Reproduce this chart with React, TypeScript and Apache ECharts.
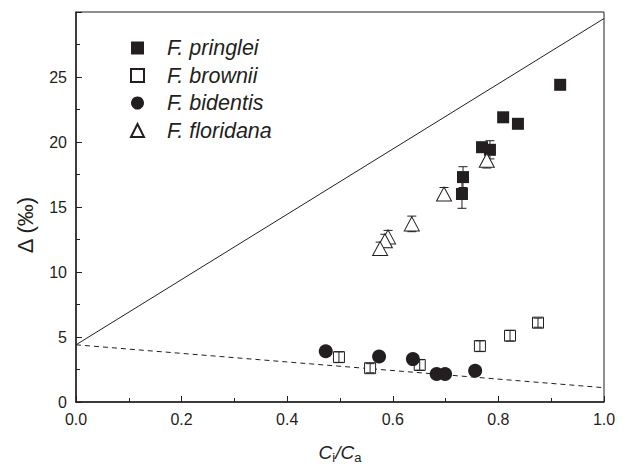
import React, { useEffect, useRef } from "react";
import * as echarts from "echarts";

const ciCaLine = [0, 1];
const solidModel = [4.4, 29.5];
const dashedModel = [4.4, 1.1];

const pringlei = [[0.917, 24.4], [0.809, 21.9], [0.837, 21.4], [0.769, 19.6], [0.784, 19.4], [0.733, 17.3], [0.731, 16.0]];
const pringleiErr = [0.2, 0.2, 0.3, 0.3, 0.7, 0.8, 1.1];
const brownii = [[0.498, 3.45], [0.557, 2.6], [0.651, 2.85], [0.765, 4.3], [0.822, 5.1], [0.875, 6.1]];
const browniiErr = [0.4, 0.35, 0.4, 0.4, 0.4, 0.35];
const bidentis = [[0.473, 3.9], [0.574, 3.5], [0.638, 3.3], [0.683, 2.15], [0.699, 2.15], [0.756, 2.4]];
const floridana = [[0.778, 18.6], [0.697, 16.0], [0.636, 13.7], [0.591, 12.7], [0.585, 12.4], [0.576, 11.8]];
const floridanaErr = [0.6, 0.5, 0.6, 0.5, 0.5, 0.5];

const xTicks = [0, 0.2, 0.4, 0.6, 0.8, 1.0];
const yTicks = [0, 5, 10, 15, 20, 25];

const INK = "#231f20";

function errData(pts: number[][], errs: number[]) {
  return pts.map((p, i) => [p[0], p[1], errs[i]]);
}

function errSeries(pts: number[][], errs: number[], z: number) {
  return {
    type: "custom",
    z,
    silent: true,
    data: errData(pts, errs),
    renderItem: (params: any, api: any) => {
      const x = api.value(0);
      const y = api.value(1);
      const e = api.value(2);
      const top = api.coord([x, y + e]);
      const bot = api.coord([x, y - e]);
      const w = 4.5;
      const style = { stroke: INK, lineWidth: 1 };
      return {
        type: "group",
        children: [
          { type: "line", shape: { x1: top[0], y1: top[1], x2: bot[0], y2: bot[1] }, style },
          { type: "line", shape: { x1: top[0] - w, y1: top[1], x2: top[0] + w, y2: top[1] }, style },
          { type: "line", shape: { x1: bot[0] - w, y1: bot[1], x2: bot[0] + w, y2: bot[1] }, style },
        ],
      };
    },
  };
}

export default function App() {
  const ref = useRef<HTMLDivElement>(null);
  useEffect(() => {
    if (!ref.current) return;
    const chart = echarts.init(ref.current, null, { renderer: "svg" });
    const font = "'Liberation Sans', Arial, Helvetica, sans-serif";
    chart.setOption({
      animation: false,
      textStyle: { fontFamily: font },
      grid: { left: 76, right: 28, top: 12, bottom: 65, show: true, borderColor: INK, borderWidth: 1 },
      graphic: [
        {
          type: "text",
          x: 25,
          y: 225,
          rotation: Math.PI / 2,
          style: {
            text: "Δ (‰)",
            fontSize: 22,
            fontFamily: font,
            fill: INK,
            textAlign: "center",
            textVerticalAlign: "middle",
          },
        },
      ],
      legend: {
        orient: "vertical",
        left: 125,
        top: 32,
        padding: 5,
        itemWidth: 13,
        itemHeight: 13,
        itemGap: 5.5,
        data: ["F. pringlei", "F. brownii", "F. bidentis", "F. floridana"],
        textStyle: { fontFamily: font, fontStyle: "italic", fontSize: 21.5, lineHeight: 20, color: INK, padding: [0, 0, 0, 18] },
      },
      xAxis: {
        type: "value",
        min: 0,
        max: 1,
        interval: 0.2,
        name: "{c|C}{s|i}{c|/C}{s|a}",
        nameLocation: "middle",
        nameGap: 38,
        nameTextStyle: {
          rich: {
            c: { fontStyle: "italic", fontSize: 19, color: INK, fontFamily: font },
            s: { fontSize: 13, color: INK, fontFamily: font, verticalAlign: "bottom", padding: [11, 0, 0, 0] },
          },
        },
        axisLine: { lineStyle: { color: INK, width: 1.5 } },
        axisTick: { inside: true, length: 6, lineStyle: { color: INK } },
        minorTick: { show: true, splitNumber: 2, length: 4, lineStyle: { color: INK } },
        splitLine: { show: false },
        axisLabel: {
          color: INK,
          fontSize: 16,
          margin: 9,
          formatter: (v: number) => (xTicks.some((t) => Math.abs(t - v) < 1e-9) ? v.toFixed(1) : ""),
        },
      },
      yAxis: {
        type: "value",
        min: 0,
        max: 30,
        interval: 5,
        axisLine: { lineStyle: { color: INK, width: 1.5 } },
        axisTick: { inside: true, length: 6, lineStyle: { color: INK } },
        minorTick: { show: true, splitNumber: 2, length: 4, lineStyle: { color: INK } },
        splitLine: { show: false },
        axisLabel: {
          color: INK,
          fontSize: 16,
          margin: 9,
          formatter: (v: number) => (yTicks.includes(v) ? String(v) : ""),
        },
      },
      series: [
        {
          type: "line",
          data: ciCaLine.map((x, i) => [x, solidModel[i]]),
          symbol: "none",
          lineStyle: { color: INK, width: 1 },
          silent: true,
          z: 1,
        },
        {
          type: "line",
          data: ciCaLine.map((x, i) => [x, dashedModel[i]]),
          symbol: "none",
          lineStyle: { color: INK, width: 1, type: [5, 4] },
          silent: true,
          z: 1,
        },
        {
          name: "F. pringlei",
          type: "scatter",
          data: pringlei,
          symbol: "rect",
          symbolSize: 12,
          itemStyle: { color: INK, opacity: 1 },
          z: 3,
        },
        errSeries(pringlei, pringleiErr, 2),
        {
          name: "F. brownii",
          type: "scatter",
          data: brownii,
          symbol: "rect",
          symbolSize: 11,
          itemStyle: { color: "#fff", borderColor: INK, borderWidth: 1, opacity: 1 },
          z: 3,
        },
        errSeries(brownii, browniiErr, 4),
        {
          name: "F. bidentis",
          type: "scatter",
          data: bidentis,
          symbol: "circle",
          symbolSize: 14,
          itemStyle: { color: INK, opacity: 1 },
          z: 5,
        },
        errSeries(floridana, floridanaErr, 5),
        {
          name: "F. floridana",
          type: "scatter",
          data: floridana,
          symbol: "triangle",
          symbolSize: [15, 14],
          itemStyle: { color: "#fff", borderColor: INK, borderWidth: 1, opacity: 1 },
          z: 6,
        },
      ],
    });
    return () => chart.dispose();
  }, []);
  return <div ref={ref} style={{ width: 632, height: 469, position: "absolute", left: 0, top: 0, background: "#fff" }} />;
}
